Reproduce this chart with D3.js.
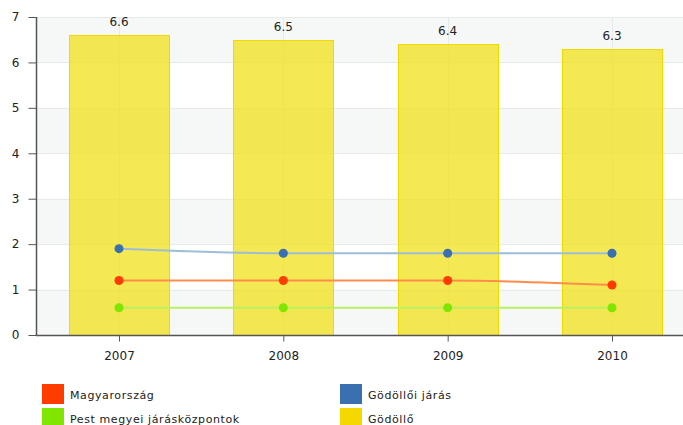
<!DOCTYPE html>
<html><head><meta charset="utf-8">
<script src="https://cdn.jsdelivr.net/npm/d3@7"></script>
<style>body{margin:0;background:#fff}svg{display:block}text{font-family:"DejaVu Sans",Verdana,sans-serif}</style>
</head><body><svg id="c" width="683" height="425"></svg>
<script>
const years = ["2007","2008","2009","2010"];
const godollo = [6.6, 6.5, 6.4, 6.3];
const magyarorszag = [1.2, 1.2, 1.2, 1.1];
const godolloiJaras = [1.9, 1.8, 1.8, 1.8];
const pestMegyei = [0.6, 0.6, 0.6, 0.6];
const yTicks = [0,1,2,3,4,5,6,7];
const legendLabels = ["Magyarország","Gödöllői járás","Pest megyei járásközpontok","Gödöllő"];

(function(){
const svg = d3.select("#c");
const pL = 36, pR = 683, pT = 17, pB = 335;
const x = d3.scalePoint().domain(years).range([119, 612]);
const y = d3.scaleLinear().domain([0,7]).range([pB, pT]);

// bands
const g = svg.append("g");
for (let i = 0; i < 7; i++) {
  if (i % 2 === 0) g.append("rect").attr("x", pL).attr("width", pR-pL)
    .attr("y", y(i+1)).attr("height", y(i)-y(i+1)).attr("fill", "#f6f8f8");
}
g.selectAll(".hg").data(yTicks.slice(1)).join("line")
  .attr("x1", pL).attr("x2", pR).attr("y1", d=>Math.round(y(d))+0.5).attr("y2", d=>Math.round(y(d))+0.5)
  .attr("stroke", "#e6eaea").attr("stroke-width", 1);
g.selectAll(".vg").data(years).join("line")
  .attr("x1", d=>Math.round(x(d))+0.5).attr("x2", d=>Math.round(x(d))+0.5).attr("y1", pT).attr("y2", pB)
  .attr("stroke", "#e6eaea");

// bars
const bw = 100;
svg.append("g").selectAll("rect").data(godollo).join("rect")
  .attr("x", (d,i)=>Math.round(x(years[i])-bw/2)+0.5).attr("width", bw)
  .attr("y", d=>Math.round(y(d))+0.5).attr("height", d=>pB-Math.round(y(d)))
  .attr("fill", "rgba(242,226,26,0.75)").attr("stroke", "#f2d800").attr("stroke-width", 1);
svg.append("g").selectAll("text").data(godollo).join("text")
  .attr("x", (d,i)=>x(years[i])).attr("y", d=>y(d)-9)
  .attr("text-anchor","middle").attr("font-size", 12).attr("fill","#222")
  .text(d=>d.toFixed(1));

// lines
const series = [
  {v: godolloiJaras, line: "#9dbdd6", dot: "#3a70b0"},
  {v: magyarorszag, line: "#ff8c4a", dot: "#ff3c00"},
  {v: pestMegyei, line: "#b8f060", dot: "#80e600"}
];
const lineGen = d3.line().x((d,i)=>x(years[i])).y(d=>y(d)).curve(d3.curveMonotoneX);
series.forEach(s=>{
  svg.append("path").datum(s.v).attr("d", lineGen).attr("fill","none")
    .attr("stroke", s.line).attr("stroke-width", 2);
  svg.append("g").selectAll("circle").data(s.v).join("circle")
    .attr("cx", (d,i)=>x(years[i])).attr("cy", d=>y(d)).attr("r", 4.5).attr("fill", s.dot);
});

// axes
const ya = svg.append("g").attr("transform", `translate(${pL+0.5},0)`)
  .call(d3.axisLeft(y).tickValues(yTicks).tickSize(8).tickPadding(9).tickFormat(d3.format("d")));
ya.select(".domain").attr("stroke","#555").attr("d", `M0,${pT}V${pB}`).attr("stroke-width",1.5);
ya.selectAll(".tick line").attr("stroke","#555");
ya.selectAll("text").attr("font-size", 12).attr("fill","#222").attr("font-family","DejaVu Sans");

const xa = svg.append("g").attr("transform", `translate(0,${pB+0.5})`)
  .call(d3.axisBottom(x).tickSize(6).tickPadding(10));
xa.select(".domain").attr("stroke","#555").attr("d", `M${pL},0H${pR}`).attr("stroke-width",1.5);
xa.selectAll(".tick line").attr("stroke","#555");
xa.selectAll("text").attr("font-size", 12).attr("fill","#222").attr("font-family","DejaVu Sans");

// legend
const legColors = ["#ff3c00","#3a70b0","#80e600","#f5d800"];
const lg = svg.append("g");
legendLabels.forEach((t,i)=>{
  const col = i % 2, row = Math.floor(i/2);
  const lx = col === 0 ? 42 : 340, ly = 384 + row*24;
  lg.append("rect").attr("x", lx).attr("y", ly).attr("width", 22).attr("height", 20)
    .attr("fill", legColors[i]);
  lg.append("text").attr("x", lx+28).attr("y", ly+15).attr("font-size", 11)
    .attr("letter-spacing", 0.6).attr("fill","#222").text(t);
});
})();
</script></body></html>
